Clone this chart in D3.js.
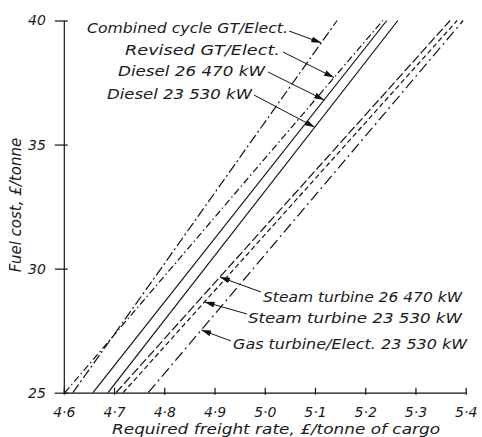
<!DOCTYPE html>
<html>
<head>
<meta charset="utf-8">
<script src="https://cdn.jsdelivr.net/npm/d3@7"></script>
<style>
  body { margin: 0; background: #fff; }
  text { font-family: "DejaVu Sans", sans-serif; font-style: italic; fill: #1a1a1a; }
</style>
</head>
<body>
<script>
// freight rate (£/tonne of cargo) at fuel cost 25 and 40 £/tonne
const fuelEnds = [25, 40];
const seriesNames = [
  "Combined cycle GT/Elect.",
  "Revised GT/Elect.",
  "Diesel 26 470 kW",
  "Diesel 23 530 kW",
  "Steam turbine 26 470 kW",
  "Steam turbine 23 530 kW",
  "Gas turbine/Elect. 23 530 kW"
];
const rateAt25 = [4.618, 4.602, 4.658, 4.688, 4.704, 4.718, 4.768];
const rateAt40 = [5.144, 5.235, 5.243, 5.265, 5.369, 5.383, 5.395];
// fuel cost where each label's arrow meets its line
const arrowFuel = [39.1, 37.7, 36.8, 35.7, 29.66, 28.66, 27.53];

const xTicks = [4.6, 4.7, 4.8, 4.9, 5.0, 5.1, 5.2, 5.3, 5.4];
const yTicks = [25, 30, 35, 40];

const width = 482, height = 437;

const dashes = ["10,3,2,3", "7,3,1.5,3", null, null, "9,3", "5,3", "11,4,2,4"];
// label text start / middle and arrow tail, layout only
const labelPos = [
  { x: 87, y: 28, w: 201, tx: 289, ty: 31 },
  { x: 125, y: 50, w: 155, tx: 283, ty: 52 },
  { x: 118, y: 71, w: 147, tx: 268, ty: 72 },
  { x: 107, y: 94, w: 145, tx: 254, ty: 95 },
  { x: 263, y: 297, w: 199, tx: 261, ty: 292 },
  { x: 248, y: 318, w: 214, tx: 247, ty: 314 },
  { x: 233, y: 344, w: 234, tx: 231, ty: 341 }
];

const x = d3.scaleLinear().domain([4.6, 5.4]).range([63.8, 465.7]);
const y = d3.scaleLinear().domain([25, 40]).range([392.7, 20.5]);

const svg = d3.select("body").append("svg")
  .attr("width", width)
  .attr("height", height);

svg.append("defs").append("marker")
  .attr("id", "head")
  .attr("viewBox", "0 0 10 6")
  .attr("refX", 10).attr("refY", 3)
  .attr("markerWidth", 10).attr("markerHeight", 6)
  .attr("markerUnits", "userSpaceOnUse")
  .attr("orient", "auto")
  .append("path")
  .attr("d", "M0,0 L10,3 L0,6 Z")
  .attr("fill", "#111");

const fmt = d => d3.format(".1f")(d).replace(".", "·");

const xAxis = svg.append("g")
  .attr("transform", `translate(0,${y(25)})`)
  .call(d3.axisBottom(x).tickValues(xTicks).tickFormat(fmt).tickSizeOuter(0).tickPadding(8));
xAxis.selectAll(".tick line").attr("y1", -5).attr("y2", 2);

const yAxis = svg.append("g")
  .attr("transform", `translate(${x(4.6)},0)`)
  .call(d3.axisLeft(y).tickValues(yTicks).tickSizeOuter(0).tickPadding(12));
yAxis.selectAll(".tick line").attr("x1", 4).attr("x2", -9);

svg.selectAll(".domain, .tick line").attr("stroke", "#111").attr("stroke-width", 1.2);
svg.selectAll(".tick text")
  .attr("font-size", 14)
  .attr("font-family", "DejaVu Sans, sans-serif")
  .attr("font-style", "italic")
  .attr("fill", "#1a1a1a");

const series = seriesNames.map((name, i) => ({
  name,
  pts: [[rateAt25[i], fuelEnds[0]], [rateAt40[i], fuelEnds[1]]],
  dash: dashes[i]
}));

const line = d3.line().x(d => x(d[0])).y(d => y(d[1]));

svg.append("g")
  .selectAll("path")
  .data(series)
  .join("path")
  .attr("d", d => line(d.pts))
  .attr("fill", "none")
  .attr("stroke", "#111")
  .attr("stroke-width", 1.2)
  .attr("stroke-dasharray", d => d.dash);

// labels and arrows
const lab = svg.append("g");
series.forEach((s, i) => {
  const p = labelPos[i];
  const f = arrowFuel[i];
  const t = (f - fuelEnds[0]) / (fuelEnds[1] - fuelEnds[0]);
  const rate = rateAt25[i] + t * (rateAt40[i] - rateAt25[i]);
  lab.append("line")
    .attr("x1", p.tx).attr("y1", p.ty)
    .attr("x2", x(rate)).attr("y2", y(f))
    .attr("stroke", "#111")
    .attr("stroke-width", 1)
    .attr("marker-end", "url(#head)");
  lab.append("text")
    .attr("x", p.x).attr("y", p.y)
    .attr("dy", "0.35em")
    .attr("font-size", 14.5)
    .attr("textLength", p.w)
    .attr("lengthAdjust", "spacingAndGlyphs")
    .text(s.name);
});

svg.append("text")
  .attr("x", 112).attr("y", 429)
  .attr("dy", "0.35em")
  .attr("font-size", 14)
  .attr("textLength", 328)
  .attr("lengthAdjust", "spacingAndGlyphs")
  .text("Required freight rate, £/tonne of cargo");

svg.append("text")
  .attr("transform", "translate(16,205) rotate(-90)")
  .attr("text-anchor", "middle")
  .attr("dy", "0.35em")
  .attr("font-size", 15)
  .text("Fuel cost, £/tonne");
</script>
</body>
</html>
